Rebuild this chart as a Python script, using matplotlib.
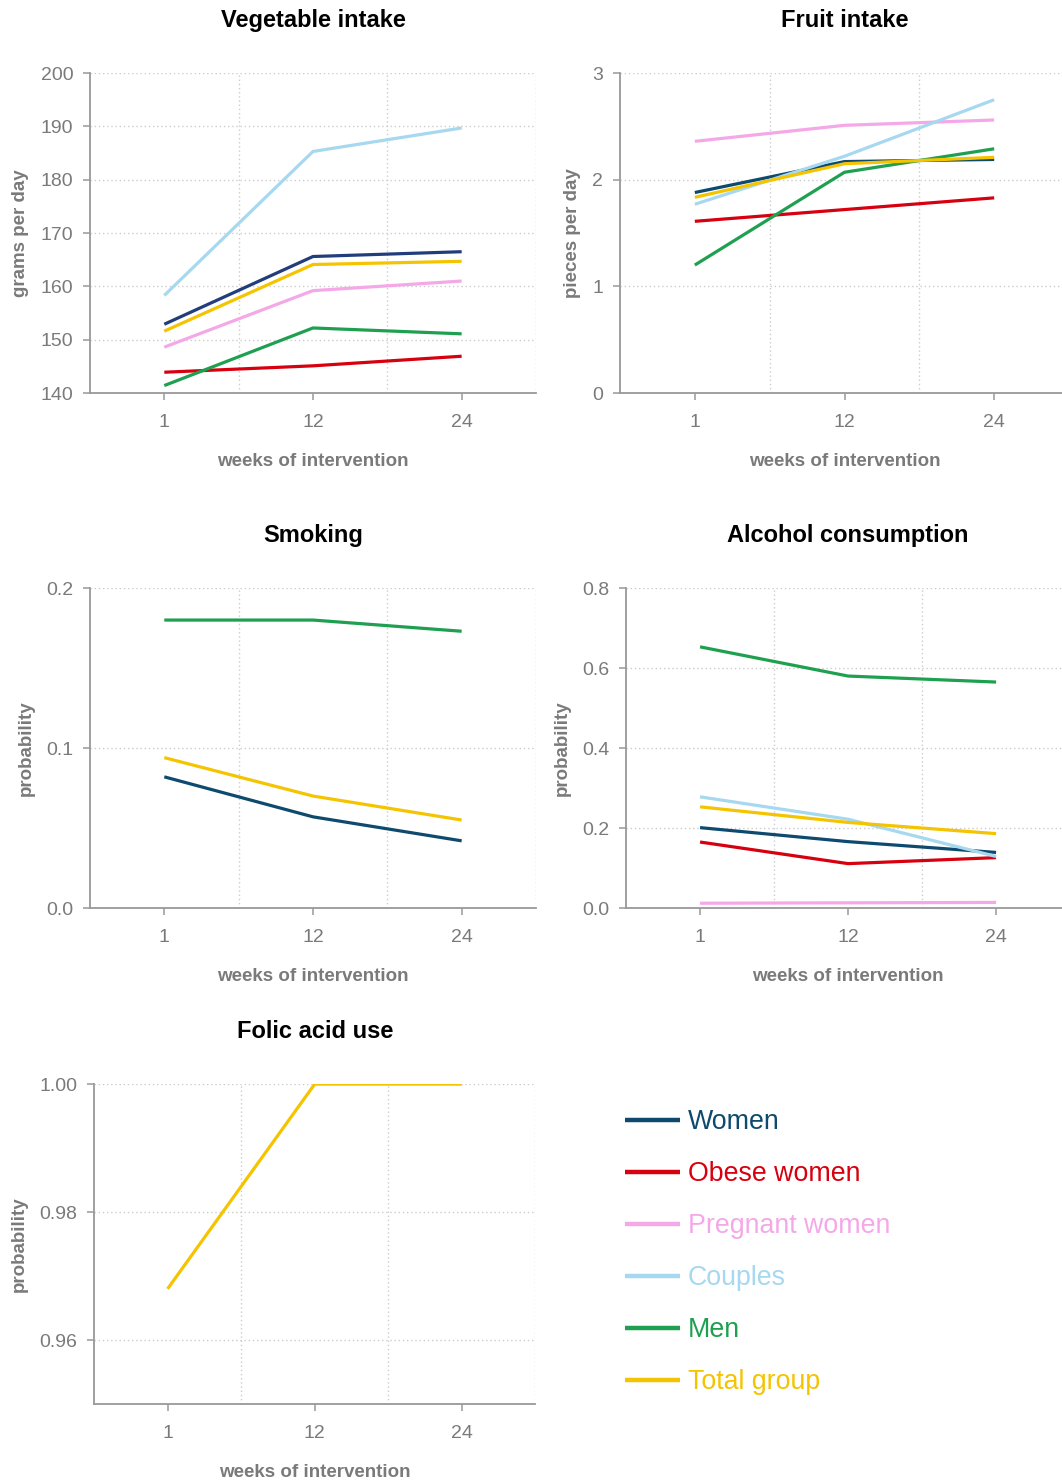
import matplotlib
matplotlib.use('Agg')
import matplotlib.pyplot as plt
from matplotlib.ticker import FixedLocator

plt.rcParams['font.family'] = ['Liberation Sans', 'DejaVu Sans']

# data
weeks = ['1', '12', '24']
groups = ['Women', 'Obese women', 'Pregnant women', 'Couples', 'Men', 'Total group']
colors = ['#0e4a6e', '#d7000f', '#f5a8e8', '#a6d8f0', '#1fa050', '#f5c400']
veg_women_color = '#223d7c'  # vegetable plot uses a bluer navy for women

veg_women = [152.9, 165.6, 166.5]
veg_obese = [143.9, 145.1, 146.9]
veg_pregnant = [148.6, 159.2, 161.0]
veg_couples = [158.3, 185.3, 189.7]
veg_men = [141.4, 152.2, 151.1]
veg_total = [151.6, 164.1, 164.7]

fruit_women = [1.88, 2.17, 2.19]
fruit_obese = [1.61, 1.72, 1.83]
fruit_pregnant = [2.36, 2.51, 2.56]
fruit_couples = [1.77, 2.22, 2.75]
fruit_men = [1.20, 2.07, 2.29]
fruit_total = [1.835, 2.15, 2.21]

smoke_women = [0.082, 0.057, 0.042]
smoke_men = [0.180, 0.180, 0.173]
smoke_total = [0.094, 0.070, 0.055]

alc_women = [0.201, 0.166, 0.139]
alc_obese = [0.165, 0.111, 0.126]
alc_pregnant = [0.012, 0.013, 0.014]
alc_couples = [0.278, 0.222, 0.129]
alc_men = [0.653, 0.580, 0.565]
alc_total = [0.253, 0.214, 0.186]

folic_total = [0.968, 1.0, 1.0]

grey = '#7a7a7a'
x = list(range(len(weeks)))

fig = plt.figure(figsize=(10.62, 14.82), dpi=100)


def make_axes(rect, title, ylabel, ylim, yticks, yticklabels):
    ax = fig.add_axes(rect)
    ax.set_xlim(-0.5, 2.5)
    ax.set_ylim(ylim)
    ax.set_xticks(x)
    ax.set_xticklabels(weeks)
    ax.set_yticks(yticks)
    ax.set_yticklabels(yticklabels)
    ax.xaxis.set_minor_locator(FixedLocator([0.5, 1.5, 2.5]))
    ax.grid(which='minor', axis='x', linestyle=(0, (1, 2)), color='#cccccc', linewidth=1)
    ax.grid(which='major', axis='y', linestyle=(0, (1, 2)), color='#cccccc', linewidth=1)
    ax.tick_params(which='minor', length=0)
    ax.tick_params(which='major', length=5, width=1.1, color='#999999',
                   labelcolor=grey, labelsize=14)
    ax.tick_params(axis='x', pad=10)
    ax.tick_params(axis='y', pad=7)
    for s in ['top', 'right']:
        ax.spines[s].set_visible(False)
    for s in ['left', 'bottom']:
        ax.spines[s].set_color('#999999')
        ax.spines[s].set_linewidth(1.3)
    ax.set_title(title, fontsize=17, fontweight='bold', pad=33)
    ax.set_xlabel('weeks of intervention', fontsize=13.5, fontweight='bold',
                  color=grey, labelpad=16)
    ax.set_ylabel(ylabel, fontsize=13.5, fontweight='bold', color=grey, labelpad=8)
    ax.set_axisbelow(True)
    return ax


# 1. Vegetable intake
ax1 = make_axes([0.0847, 0.7348, 0.42, 0.2159], 'Vegetable intake', 'grams per day',
                (140, 200), [140, 150, 160, 170, 180, 190, 200],
                ['140', '150', '160', '170', '180', '190', '200'])
veg = [veg_women, veg_obese, veg_pregnant, veg_couples, veg_men, veg_total]
veg_colors = [veg_women_color] + colors[1:]
for vals, c in zip(veg, veg_colors):
    ax1.plot(x, vals, color=c, linewidth=2.3, solid_capstyle='butt')

# 2. Fruit intake
ax2 = make_axes([0.5838, 0.7348, 0.4228, 0.2159], 'Fruit intake', 'pieces per day',
                (0, 3), [0, 1, 2, 3], ['0', '1', '2', '3'])
fruit = [fruit_women, fruit_obese, fruit_pregnant, fruit_couples, fruit_men, fruit_total]
for vals, c in zip(fruit, colors):
    ax2.plot(x, vals, color=c, linewidth=2.3, solid_capstyle='butt')

# 3. Smoking
ax3 = make_axes([0.0847, 0.3873, 0.42, 0.2159], 'Smoking', 'probability',
                (0, 0.2), [0, 0.1, 0.2], ['0.0', '0.1', '0.2'])
ax3.plot(x, smoke_women, color=colors[0], linewidth=2.3, solid_capstyle='butt')
ax3.plot(x, smoke_men, color=colors[4], linewidth=2.3, solid_capstyle='butt')
ax3.plot(x, smoke_total, color=colors[5], linewidth=2.3, solid_capstyle='butt')

# 4. Alcohol consumption
ax4 = make_axes([0.5895, 0.3873, 0.4181, 0.2159], 'Alcohol consumption', 'probability',
                (0, 0.8), [0, 0.2, 0.4, 0.6, 0.8], ['0.0', '0.2', '0.4', '0.6', '0.8'])
alc = [alc_women, alc_obese, alc_pregnant, alc_couples, alc_men, alc_total]
for vals, c in zip(alc, colors):
    ax4.plot(x, vals, color=c, linewidth=2.3, solid_capstyle='butt')

# 5. Folic acid use
ax5 = make_axes([0.0885, 0.0526, 0.4157, 0.2159], 'Folic acid use', 'probability',
                (0.95, 1.0), [0.96, 0.98, 1.0], ['0.96', '0.98', '1.00'])
ax5.plot(x, folic_total, color=colors[5], linewidth=2.3, solid_capstyle='butt')

# legend
handles = [plt.Line2D([], [], color=c, linewidth=3.2, solid_capstyle='butt') for c in colors]
fig.legend(handles, groups, loc='upper left', bbox_to_anchor=(0.5885, 0.2515),
           frameon=False, fontsize=19.3, labelcolor='linecolor', borderpad=0,
           borderaxespad=0, handlelength=2.05, handletextpad=0.3, labelspacing=0.97)

fig.savefig('out.png', dpi=100)
